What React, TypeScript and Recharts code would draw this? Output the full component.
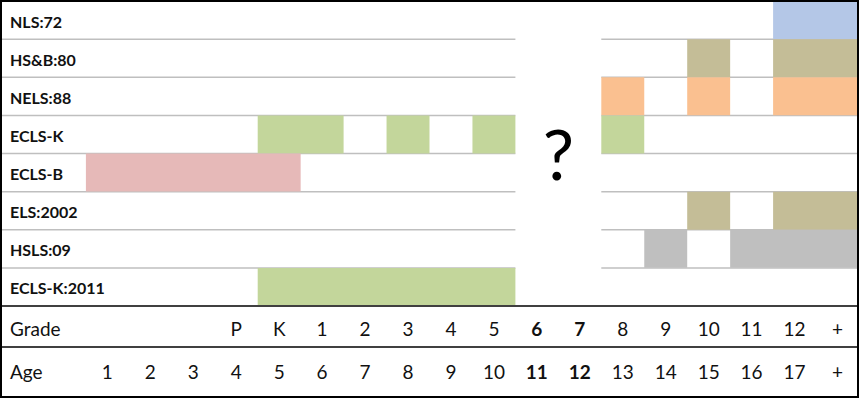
import React from 'react';
import {
  BarChart, Bar, Cell, XAxis, YAxis, CartesianGrid, ReferenceArea, LabelList,
} from 'recharts';

// studies, top to bottom
const STUDIES = ['NLS:72', 'HS&B:80', 'NELS:88', 'ECLS-K', 'ECLS-B', 'ELS:2002', 'HSLS:09', 'ECLS-K:2011'];
const STUDY_COLORS = ['#b4c7e7', '#c4bd97', '#fac090', '#c3d69b', '#e6b9b8', '#c4bd97', '#bfbfbf', '#c3d69b'];

// column index: 0 = age 1 ... 4 = kindergarten ... 17 = beyond grade 12
const GRADE_LABELS = ['', '', '', 'P', 'K', '1', '2', '3', '4', '5', '6', '7', '8', '9', '10', '11', '12', '+'];
const AGE_LABELS = ['1', '2', '3', '4', '5', '6', '7', '8', '9', '10', '11', '12', '13', '14', '15', '16', '17', '+'];

// data collection waves per study, [first column, column after last]
const WAVES: [number, number][][] = [
  [[16, 18]],
  [[14, 15], [16, 18]],
  [[12, 13], [14, 15], [16, 18]],
  [[4, 6], [7, 8], [9, 10], [12, 13]],
  [[0, 5]],
  [[14, 15], [16, 18]],
  [[13, 14], [15, 18]],
  [[4, 10]],
];

// grades 6 and 7 are not covered by any study
const UNKNOWN_SPAN: [number, number] = [10, 12];

const LABEL_COLS = 2;
const MAX_WAVES = Math.max(...WAVES.map((w) => w.length));
const SEG_KEYS = Array.from({ length: MAX_WAVES }, (_, i) => `w${i}`);

const data = STUDIES.map((study, i) => {
  const row: Record<string, unknown> = { study };
  WAVES[i].forEach((seg, j) => { row[`w${j}`] = seg; });
  return row;
});

const FONT = 'Lato, "Open Sans", sans-serif';
const W = 859;
const H = 398;
const GRADE_ROW_H = 41;
const AGE_ROW_H = 50;
const MARGIN = { top: 1, right: 0, bottom: 1, left: 0 };

// study name in the left label column, vertically centred on its row
const StudyLabel = (props: any) => {
  const { y, height, value } = props;
  return (
    <text x={10} y={y + height / 2 + 1} dominantBaseline="central" fontFamily={FONT} fontWeight={700} fontSize={16} fill="#111">
      {value}
    </text>
  );
};

// grade label on the first line, age label on the second
const ColTick = (props: any) => {
  const { x, y, payload } = props;
  const v = payload.value as number;
  const gy = y + GRADE_ROW_H / 2 + 2;
  const ay = y + GRADE_ROW_H + AGE_ROW_H / 2 - 1;
  if (v === -LABEL_COLS) {
    return (
      <g fontFamily={FONT} fontSize={19} fill="#111">
        <text x={x + 10} y={gy} dominantBaseline="central">Grade</text>
        <text x={x + 10} y={ay} dominantBaseline="central">Age</text>
      </g>
    );
  }
  const col = Math.floor(v);
  const bold = col >= UNKNOWN_SPAN[0] && col < UNKNOWN_SPAN[1];
  return (
    <g fontFamily={FONT} fontSize={19} fontWeight={bold ? 700 : 400} fill="#111" textAnchor="middle">
      <text x={x} y={gy} dominantBaseline="central">{GRADE_LABELS[col]}</text>
      <text x={x} y={ay} dominantBaseline="central">{AGE_LABELS[col]}</text>
    </g>
  );
};

const colTicks = [-LABEL_COLS, ...GRADE_LABELS.map((_, i) => i + 0.5)];
const domain = [-LABEL_COLS, GRADE_LABELS.length];

export default function App() {
  return (
    <div style={{ position: 'absolute', left: 0, top: 0, width: W, height: H, background: '#fff' }}>
      <BarChart
        width={W}
        height={H}
        data={data}
        layout="vertical"
        margin={MARGIN}
        barCategoryGap={0}
        barGap={0}
      >
        <CartesianGrid
          xAxisId="grade"
          yAxisId="y0"
          vertical={false}
          stroke="#bfbfbf"
          strokeWidth={1.5}
          horizontalCoordinatesGenerator={({ offset }: any) =>
            STUDIES.slice(1).map((_, i) => offset.top + ((i + 1) * offset.height) / STUDIES.length)
          }
        />
        <XAxis
          xAxisId="grade"
          type="number"
          domain={domain}
          ticks={colTicks}
          interval={0}
          height={GRADE_ROW_H + AGE_ROW_H}
          tickSize={0}
          tickMargin={0}
          tickLine={false}
          axisLine={{ stroke: '#404040', strokeWidth: 2 }}
          tick={ColTick}
        />
        {SEG_KEYS.map((k, i) => (
          <YAxis key={k} yAxisId={`y${i}`} type="category" dataKey="study" hide />
        ))}
        <ReferenceArea
          xAxisId="grade"
          yAxisId="y0"
          x1={UNKNOWN_SPAN[0]}
          x2={UNKNOWN_SPAN[1]}
          fill="#fff"
          fillOpacity={1}
          stroke="none"
          label={{ value: '?', position: 'center', fontSize: 70, fontFamily: FONT, fill: '#000', dy: 2 }}
        />
        {SEG_KEYS.map((k, i) => (
          <Bar key={k} dataKey={k} xAxisId="grade" yAxisId={`y${i}`} isAnimationActive={false}>
            {data.map((_, r) => (
              <Cell key={r} fill={STUDY_COLORS[r]} />
            ))}
            {i === 0 && <LabelList dataKey="study" content={StudyLabel} />}
          </Bar>
        ))}
      </BarChart>
      {/* rule between the grade and age rows */}
      <div
        style={{
          position: 'absolute', left: 0, width: W, height: 2, background: '#404040',
          top: H - MARGIN.bottom - AGE_ROW_H - 1,
        }}
      />
      <div
        style={{
          position: 'absolute', left: 0, top: 0, width: W, height: H,
          border: '2px solid #000', boxSizing: 'border-box', pointerEvents: 'none',
        }}
      />
    </div>
  );
}
